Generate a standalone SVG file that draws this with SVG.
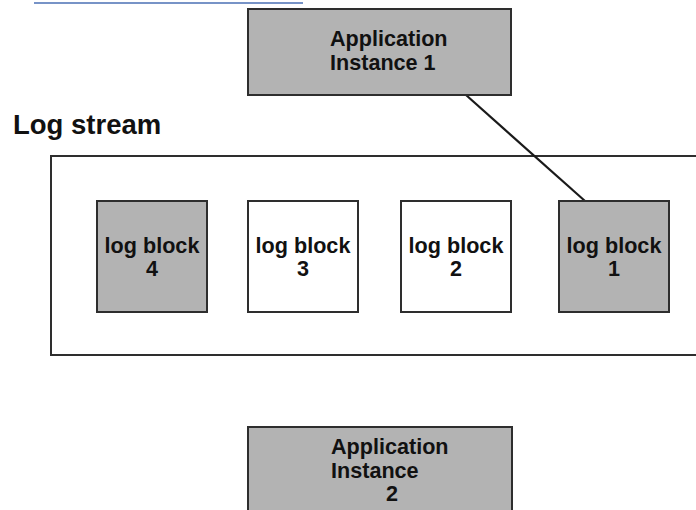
<svg xmlns="http://www.w3.org/2000/svg" width="696" height="510" viewBox="0 0 696 510">
<style>
.box{stroke:#2e2e2e;stroke-width:2}
.gray{fill:#b3b3b3}
.white{fill:#ffffff}
.t{font-family:"Liberation Sans",Arial,sans-serif;font-weight:bold;fill:#111}
.app{font-size:21.6px}
.blk{font-size:21.6px;text-anchor:middle}
.conn{stroke:#1a1a1a;stroke-width:2.2;fill:none}
</style>
<rect width="696" height="510" fill="#ffffff"/>
<line x1="34" y1="3" x2="303" y2="3" stroke="#4a6fb5" stroke-width="1.3"/>
<text class="t" x="13" y="134" font-size="27.5">Log stream</text>
<g id="stream">
<rect class="box white" x="51" y="156" width="700" height="199"/>
</g>
<g id="connectors">
<line class="conn" x1="466" y1="95" x2="585" y2="201"/>
</g>
<g id="app1">
<rect class="box gray" x="248" y="9" width="263" height="86"/>
<text class="t app" x="330" y="46">Application</text>
<text class="t app" x="330" y="70">Instance 1</text>
</g>
<g id="block4">
<rect class="box gray" x="97" y="201" width="110" height="111"/>
<text class="t blk" x="152" y="253">log block</text>
<text class="t blk" x="152" y="276">4</text>
</g>
<g id="block3">
<rect class="box white" x="248" y="201" width="110" height="111"/>
<text class="t blk" x="303" y="253">log block</text>
<text class="t blk" x="303" y="276">3</text>
</g>
<g id="block2">
<rect class="box white" x="401" y="201" width="110" height="111"/>
<text class="t blk" x="456" y="253">log block</text>
<text class="t blk" x="456" y="276">2</text>
</g>
<g id="block1">
<rect class="box gray" x="559" y="201" width="110" height="111"/>
<text class="t blk" x="614" y="253">log block</text>
<text class="t blk" x="614" y="276">1</text>
</g>
<g id="app2">
<rect class="box gray" x="248" y="427" width="264" height="100"/>
<text class="t app" x="331" y="454">Application</text>
<text class="t app" x="331" y="478">Instance</text>
<text class="t app" x="392" y="501" text-anchor="middle">2</text>
</g>
</svg>
